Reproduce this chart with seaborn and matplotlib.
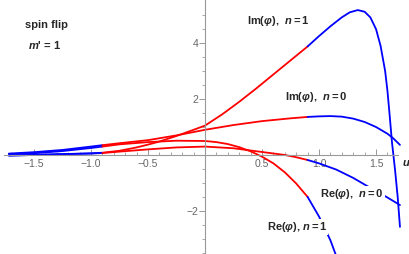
import matplotlib
matplotlib.use("Agg")
import matplotlib.pyplot as plt
import seaborn as sns
import numpy as np
import pandas as pd
from matplotlib.ticker import FixedLocator

sns.set_style("white")
plt.rcParams['font.family'] = ['Liberation Sans', 'DejaVu Sans']
plt.rcParams['mathtext.fontset'] = 'custom'
plt.rcParams['mathtext.rm'] = 'Liberation Sans:bold'
plt.rcParams['mathtext.it'] = 'Liberation Sans:italic:bold'
plt.rcParams['mathtext.bf'] = 'Liberation Sans:bold'

# ---- data ----
u_im1 = [-1.72, -1.5, -1.25, -1.0, -0.9, -0.75, -0.6, -0.5, -0.4, -0.25, -0.1, 0.0, 0.15, 0.3,
         0.45, 0.6, 0.75, 0.9, 1.0, 1.1, 1.2, 1.27, 1.34, 1.4, 1.45, 1.5, 1.54, 1.58, 1.6,
         1.62, 1.64, 1.667, 1.69, 1.71]
v_im1 = [-0.02, 0.0, 0.03, 0.06, 0.08, 0.15, 0.27, 0.37, 0.48, 0.68, 0.9, 1.05, 1.45, 1.9,
         2.38, 2.88, 3.38, 3.88, 4.25, 4.6, 4.92, 5.1, 5.18, 5.12, 4.92, 4.5, 3.9, 3.0, 2.3,
         1.4, 0.45, -0.54, -1.5, -2.57]

u_im0 = [-1.72, -1.5, -1.25, -1.0, -0.9, -0.75, -0.5, -0.25, 0.0, 0.25, 0.5, 0.75, 0.9,
         1.0, 1.1, 1.2, 1.3, 1.4, 1.5, 1.6, 1.65, 1.71]
v_im0 = [0.05, 0.1, 0.18, 0.3, 0.35, 0.42, 0.53, 0.7, 0.9, 1.07, 1.21, 1.31, 1.36,
         1.38, 1.39, 1.37, 1.3, 1.18, 1.0, 0.76, 0.6, 0.36]

u_re0 = [-1.72, -1.5, -1.25, -1.0, -0.9, -0.75, -0.5, -0.25, 0.0, 0.25, 0.4, 0.55, 0.7, 0.8, 0.9,
         1.0, 1.15, 1.3, 1.46, 1.6, 1.71]
v_re0 = [-0.02, 0.0, 0.03, 0.05, 0.07, 0.12, 0.2, 0.27, 0.3, 0.24, 0.16, 0.08, 0.0, -0.08, -0.18,
         -0.3, -0.52, -0.82, -1.2, -1.52, -1.79]

u_re1 = [-1.72, -1.5, -1.25, -1.0, -0.9, -0.75, -0.5, -0.25, 0.0, 0.1, 0.2, 0.3, 0.4, 0.5,
         0.6, 0.7, 0.8, 0.9, 1.0, 1.1, 1.15, 1.25]
v_re1 = [0.03, 0.06, 0.14, 0.25, 0.3, 0.38, 0.46, 0.51, 0.5, 0.46, 0.39, 0.28, 0.13, -0.06,
         -0.3, -0.62, -1.02, -1.5, -2.2, -3.05, -3.6, -4.6]

curves = {
    "Im(φ), n = 1": (u_im1, v_im1),
    "Im(φ), n = 0": (u_im0, v_im0),
    "Re(φ), n = 0": (u_re0, v_re0),
    "Re(φ), n = 1": (u_re1, v_re1),
}
split_lo, split_hi = -0.9, 0.9
outer_color = "#0000FF"
inner_color = "#FF0000"

fig = plt.figure(figsize=(4.1, 2.54), dpi=100)
ax = fig.add_axes([0, 0, 1, 1])
ax.set_xlim(-1.798, 1.798)
ax.set_ylim(-3.54, 5.54)

for name, (u, v) in curves.items():
    df = pd.DataFrame({"u": u, "v": v})
    segs = [
        (df[df.u <= split_lo], outer_color),
        (df[(df.u >= split_lo) & (df.u <= split_hi)], inner_color),
        (df[df.u >= split_hi], outer_color),
    ]
    for seg, col in segs:
        sns.lineplot(data=seg, x="u", y="v", color=col, lw=1.3, ax=ax,
                     estimator=None, sort=False, legend=False)

ax.set_xlabel("")
ax.set_ylabel("")
for s in ["top", "right"]:
    ax.spines[s].set_visible(False)
axcol = "#999999"
ax.spines["left"].set_position(("data", 0))
ax.spines["bottom"].set_position(("data", 0))
ax.spines["left"].set_color(axcol)
ax.spines["bottom"].set_color(axcol)
ax.spines["left"].set_linewidth(0.8)
ax.spines["bottom"].set_linewidth(0.8)
ax.spines["bottom"].set_bounds(-1.76, 1.69)

xt = [-1.5, -1.0, -0.5, 0.5, 1.0, 1.5]
ax.xaxis.set_major_locator(FixedLocator(xt))
ax.set_xticklabels(["−1.5", "−1.0", "−0.5", "0.5", "1.0", "1.5"])
ax.xaxis.set_minor_locator(FixedLocator([x / 10 for x in range(-17, 17) if x % 5 != 0]))
yt = [-2, 2, 4]
ax.yaxis.set_major_locator(FixedLocator(yt))
ax.set_yticklabels(["−2", "2", "4"])
ax.yaxis.set_minor_locator(FixedLocator([y / 2 for y in range(-7, 11) if y % 4 != 0]))

ax.tick_params(axis="x", which="major", direction="in", length=4, width=0.7, color=axcol,
               labelsize=7.5, labelcolor="#666666", pad=3, bottom=True)
ax.tick_params(axis="x", which="minor", direction="in", length=2, width=0.6, color=axcol, bottom=True)
ax.tick_params(axis="y", which="major", direction="out", length=4, width=0.7, color=axcol,
               labelsize=7.5, labelcolor="#666666", pad=1, left=True)
ax.tick_params(axis="y", which="minor", direction="out", length=2, width=0.6, color=axcol, left=True)

fs = 8
kw = dict(fontsize=fs, fontweight="bold", va="center", ha="left")
ax.text(-1.58, 4.64, "spin flip", **kw)
ax.text(-1.55, 3.93, r"$m$' = 1", **kw)
ax.text(0.37, 4.79, r"Im($φ$),  $n = 1$", **kw)
ax.text(0.70, 2.07, r"Im($φ$),  $n = 0$", **kw)
ax.text(1.01, -1.39, r"Re($φ$),  $n = 0$",
        bbox=dict(facecolor="white", edgecolor="none", pad=0.5), **kw)
ax.text(0.54, -2.57, r"Re($φ$), $n = 1$",
        bbox=dict(facecolor="white", edgecolor="none", pad=0.5), **kw)
ax.text(1.725, -0.29, r"$u$", **kw)

fig.savefig("out.png", dpi=100)
